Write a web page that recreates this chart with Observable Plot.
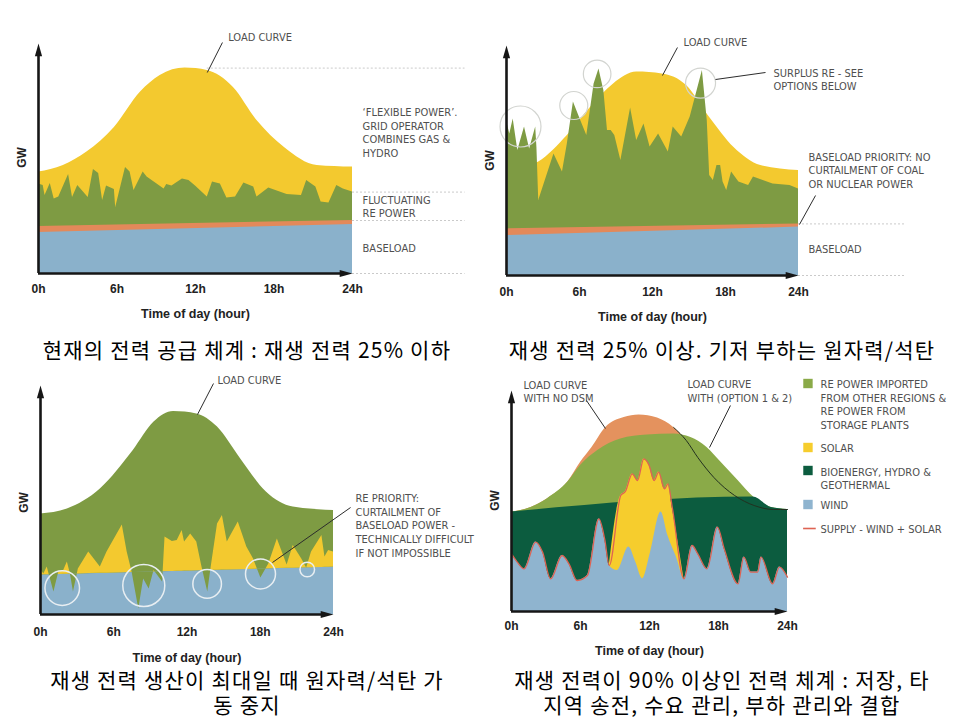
<!DOCTYPE html>
<html>
<head>
<meta charset="utf-8">
<script src="https://cdn.jsdelivr.net/npm/d3@7"></script>
<script src="https://cdn.jsdelivr.net/npm/@observablehq/plot@0.6"></script>
<style>
  html, body { margin: 0; padding: 0; background: #fff; }
  #page { position: relative; width: 960px; height: 720px; overflow: hidden; background: #fff; }
  #page svg { position: absolute; }
  .cap { position: absolute; text-align: center; font-family: "Noto Sans CJK KR", sans-serif;
         font-size: 21px; letter-spacing: 1.2px; line-height: 25px; height: 25px; color: #000; white-space: nowrap; }
</style>
</head>
<body>
<div id="page"></div>
<script>
// ---------- data: [hour, GW] pairs ----------
const hourTicks = [0, 6, 12, 18, 24];

// Panel 1: today's supply, renewables below 25%
const p1Load = [[0,50.7],[1.9,54],[3.7,60.7],[5.8,73],[7.8,90.7],[9.3,99],[11.2,102.7],[12.9,101.5],
  [14.9,93],[16.7,76.5],[18.8,63],[21.3,54],[24,53.2]];
const p1Renewable = [[0,44.8],[0.36,44],[0.5,39],[0.9,45],[1.2,37.3],[1.55,38.2],[2.3,49.5],[2.6,38],
  [3.0,44],[3.8,38],[4.2,52],[4.6,50],[4.9,36.5],[5.2,43.7],[5.8,42],[5.9,33],[6.65,53],[7.0,50.7],
  [7.3,41.5],[8.0,50.7],[8.3,48.2],[9.6,42.3],[9.8,44.5],[10.2,43.7],[11.0,47.3],[11.5,46.5],[12.0,43.7],
  [12.9,38.2],[13.3,45.7],[13.9,44.8],[14.4,37.8],[15.06,38.2],[15.7,45.2],[16.45,43.2],[16.7,38.2],
  [17.6,42.8],[19.0,39.5],[20.1,39],[20.5,46.5],[21.2,43.2],[21.6,35.7],[22.2,35.2],[22.8,44],[23.3,42.3],[24,40.7]];
const p1Baseload = [[0,20.5],[24,24.5]];
const p1BaseBand = [[0,23.5],[24,26.5]];

// Panel 2: renewables above 25%, baseload keeps priority
const p2Load = [[0,51],[1.5,53.5],[2.65,56.7],[5.0,70],[6.9,84],[8.8,95.8],[10.7,101.7],[12.8,100.8],
  [14.8,95],[16.7,79],[18.7,64],[20.9,55],[24,52.5]];
const p2Renewable = [[0,77.5],[0.27,70.8],[0.55,78.3],[0.93,62.5],[1.48,74.2],[1.9,63.3],[2.4,74.2],[2.5,64],
  [2.65,37.5],[3.9,60.8],[4.6,51.7],[5.0,65.8],[5.5,86.7],[6.1,77.5],[6.6,70],[7.2,95.8],[7.6,103.3],
  [8.0,92.5],[8.3,72.5],[8.6,72.5],[8.9,70],[9.4,57.5],[10.2,83.8],[10.7,67.5],[11.3,75.8],[11.8,64.2],
  [12.5,70.8],[13.3,61.7],[13.7,74.2],[14.4,69.2],[15.1,79.2],[16.1,102.5],[16.5,77.5],[16.7,50],[17.0,47.5],
  [17.3,55],[17.6,55],[17.8,46.7],[18.1,42.5],[18.5,51.7],[19.1,46.7],[19.9,45],[20.3,49.2],[21.1,47.5],
  [21.9,45.8],[23.3,45],[24,43.3]];
const p2Baseload = [[0,20],[24,24.2]];
const p2BaseBand = [[0,23.3],[24,25.8]];

// Panel 3: renewables at peak, baseload curtailed
const p3Load = [[0,50.3],[2.2,52.8],[4.9,62.8],[7.6,82],[9.3,96.2],[10.9,101.5],[12.8,100.3],[14.5,93.7],
  [16.4,77.8],[18.5,61.2],[20.7,53.7],[24,52]];
const p3Renewable = [[0,22.8],[0.27,20.3],[0.55,23.7],[1.1,11.2],[1.5,21.2],[1.9,22],[2.2,26.2],[2.45,20.3],
  [2.7,11.2],[3.1,22.8],[3.95,31.2],[4.9,23.7],[5.45,31.2],[6.7,44.8],[7.1,31.2],[7.5,21.2],[8.05,2.8],
  [8.45,17.8],[8.9,12.8],[9.3,22],[10.0,16.2],[10.2,38.7],[10.8,36.5],[11.2,37],[11.6,42],[11.8,36.2],
  [12.3,40.3],[12.8,36.2],[13.2,24.5],[13.7,11.2],[14.0,24.5],[14.5,45.3],[14.9,49.5],[15.3,36.2],[16.2,46.2],
  [16.9,33.7],[17.45,27.8],[18.05,18.2],[18.7,25.3],[19.4,37.8],[20.2,24.8],[20.7,34.5],[21.4,27.8],
  [21.8,23.2],[22.2,31.2],[23.05,39.5],[23.3,28.7],[23.6,32],[24,31.2]];
const p3Baseload = [[0,19.8],[24,23.7]];

// Panel 4: more than 90% renewables with storage, transmission and demand-side management
const p4LoadNoDSM = [[0,49.7],[1.7,52],[3.1,56.3],[4.9,64.7],[6.0,74.5],[7.0,82],[8.2,92],[9.8,97],[11.1,98.3],
  [12.7,96.7],[14.1,92],[15.2,85.5],[16.2,77],[17.6,67],[19.4,58],[21.1,53],[22.8,51],[24,51]];
const p4LoadDSM = [[0,49.7],[1.7,52],[3.1,56.3],[4.9,64.7],[6.0,73],[7.5,80.5],[9.5,86.3],[11.8,88.3],
  [14.1,88.8],[15.6,87],[17.0,82],[18.2,74.7],[19.7,65.5],[21.1,57],[22.6,52],[24,51]];
const p4Bio = [[0,49.7],[21.0,57.2],[22.6,52],[24,51]];
const p4Wind = [[0,28.8],[0.5,24.7],[1.1,21.3],[2.1,34.7],[2.7,29.7],[3.4,16.3],[4.4,28],[5.0,23.8],[5.7,15.5],
  [6.6,18],[7.6,46.3],[8.1,36.3],[8.5,23],[9.2,20.5],[10.2,32.2],[10.8,24.7],[11.4,16.3],[12.1,29.7],[13.0,49.7],
  [13.6,38],[14.4,26.3],[15.0,16.3],[15.7,33],[16.2,28.8],[17.0,21.3],[17.9,42.2],[18.5,31.3],[19.7,13.8],
  [20.2,27.2],[20.8,19.7],[21.4,19.7],[21.7,27.2],[22.7,13.8],[23.3,22.2],[24,17.2]];
const p4WindPlusSolar = [[8.5,23],[9.5,58],[9.9,60],[10.5,68.8],[10.96,65.5],[11.5,76.3],[11.97,73],[12.4,65.5],
  [12.8,69.7],[13.3,61.3],[13.6,63.8],[14.0,51.3],[15.0,16.3]];

const p4Legend = ["RE POWER IMPORTED\nFROM OTHER REGIONS &\nRE POWER FROM\nSTORAGE PLANTS", "SOLAR",
  "BIOENERGY, HYDRO &\nGEOTHERMAL", "WIND", "SUPPLY - WIND + SOLAR"];

const captions = [
  ["현재의 전력 공급 체계 : 재생 전력 25% 이하"],
  ["재생 전력 25% 이상. 기저 부하는 원자력/석탄"],
  ["재생 전력 생산이 최대일 때 원자력/석탄 가", "동 중지"],
  ["재생 전력이 90% 이상인 전력 체계 : 저장, 타", "지역 송전, 수요 관리, 부하 관리와 결합"]
];

// ---------- styles ----------
const INK = "#161616";
const C = {
  yellow: "#f3c92f", green: "#7e9b43", blue: "#8ab1cb", orange: "#e3895a",
  p4orange: "#e4925e", p4green: "#8aaa48", p4dark: "#0c5c3f", p4yellow: "#f6cd2d", p4blue: "#8fb4cf",
  supply: "#de6353", note: "#4f4f4f", leader: "#2c2c2c", guide: "#c4c4c4", ring: "#d2d4d0", ringLight: "#e8eef2"
};
const NARROW = '"Liberation Sans Narrow","Arial Narrow","DejaVu Sans Condensed",sans-serif';
const BOLD = '"Liberation Sans",Arial,sans-serif';

const rows = pairs => pairs.map(([h, v]) => ({h, v}));

// narrow filled arrowhead, tip at the anchor point
const arrowHead = {
  draw(ctx, size) {
    const r = Math.sqrt(size / Math.PI);
    ctx.moveTo(0, 0);
    ctx.lineTo(0.45 * r, 1.6 * r);
    ctx.lineTo(-0.45 * r, 1.6 * r);
    ctx.closePath();
  }
};

function note(text, h, u, opts = {}) {
  return Plot.text([text], {x: h, y: u, text: d => d, textAnchor: "start", fill: C.note,
    fontFamily: NARROW, fontSize: 11, lineHeight: 1.27, ...opts});
}
function leader(h1, u1, h2, u2) {
  return Plot.link([0], {x1: h1, y1: u1, x2: h2, y2: u2, stroke: C.leader, strokeWidth: 1});
}
function guide(u, h1, h2) {
  return Plot.ruleY([u], {x1: h1, x2: h2, stroke: C.guide, strokeWidth: 0.9, strokeDasharray: "2,2"});
}
function rings(list, stroke, width) {
  return list.map(c => Plot.dot([c], {x: "h", y: "u", r: c.r, stroke, strokeWidth: width, fill: "none"}));
}

function axisMarks(ymax, {gwY, tickDy, titleDy}) {
  return [
    Plot.ruleX([0], {y1: 0, y2: ymax - 4, stroke: INK, strokeWidth: 2.6}),
    Plot.ruleY([0], {x1: 0, x2: 23.4, stroke: INK, strokeWidth: 2.6}),
    Plot.dot([0], {x: 0, y: ymax, symbol: arrowHead, r: 8, fill: INK, stroke: "none"}),
    Plot.dot([0], {x: 24, y: 0, symbol: arrowHead, r: 8, rotate: 90, fill: INK, stroke: "none"}),
    Plot.text(hourTicks, {x: d => d, y: 0, dy: tickDy, text: d => `${d}h`, fontFamily: BOLD,
      fontWeight: "bold", fontSize: 12, fill: "#222"}),
    Plot.text(["Time of day (hour)"], {x: 12, y: 0, dy: titleDy, text: d => d, fontFamily: BOLD,
      fontWeight: "bold", fontSize: 12.5, fill: "#222"}),
    Plot.text(["GW"], {x: 0, y: gwY, dx: -16, rotate: -90, text: d => d, fontFamily: BOLD,
      fontWeight: "bold", fontSize: 12, fill: "#222"})
  ];
}

const page = document.getElementById("page");
function panel({left, top, width, height, margin, ymax, marks}) {
  const svg = Plot.plot({
    width, height,
    marginTop: margin[0], marginRight: margin[1], marginBottom: margin[2], marginLeft: margin[3],
    x: {domain: [0, 24], axis: null},
    y: {domain: [0, ymax], axis: null},
    style: {background: "transparent", overflow: "visible"},
    marks
  });
  svg.style.left = left + "px";
  svg.style.top = top + "px";
  page.append(svg);
}

// ---------- panel 1 ----------
{
  const ymax = 115;
  panel({left: 0, top: 0, width: 480, height: 330, margin: [43, 128, 57, 38], ymax, marks: [
    Plot.areaY(rows(p1Load), {x: "h", y: "v", fill: C.yellow, curve: "monotone-x"}),
    Plot.areaY(rows(p1Renewable), {x: "h", y: "v", fill: C.green}),
    Plot.areaY(rows(p1BaseBand), {x: "h", y: "v", fill: C.orange}),
    Plot.areaY(rows(p1Baseload), {x: "h", y: "v", fill: C.blue}),
    guide(d3.max(p1Load, d => d[1]), 12.9, 32.6),
    guide(p1Renewable.at(-1)[1], 24, 32.6),
    guide(p1BaseBand.at(-1)[1], 24, 32.6),
    guide(0, 24, 32.6),
    note("LOAD CURVE", 14.5, 118.5),
    leader(14.06, 115.5, 12.9, 100.5),
    note("‘FLEXIBLE POWER’.\nGRID OPERATOR\nCOMBINES GAS &\nHYDRO", 24.77, 70.75),
    note("FLUCTUATING\nRE POWER", 24.77, 33.75),
    note("BASELOAD", 24.77, 13),
    ...axisMarks(ymax, {gwY: 58, tickDy: 16, titleDy: 40})
  ]});
}

// ---------- panel 2 ----------
{
  const ymax = 115;
  panel({left: 480, top: 0, width: 480, height: 330, margin: [45, 162, 55, 26], ymax, marks: [
    Plot.areaY(rows(p2Load), {x: "h", y: "v", fill: C.yellow, curve: "monotone-x"}),
    Plot.areaY(rows(p2Renewable), {x: "h", y: "v", fill: C.green}),
    Plot.areaY(rows(p2BaseBand), {x: "h", y: "v", fill: C.orange}),
    Plot.areaY(rows(p2Baseload), {x: "h", y: "v", fill: C.blue}),
    guide(p2BaseBand.at(-1)[1], 24, 32.8),
    guide(0, 24, 32.8),
    ...rings([{h: 1.15, u: 74.5, r: 20.5}, {h: 5.53, u: 85, r: 14}, {h: 7.45, u: 100.8, r: 13.8},
      {h: 15.95, u: 96.2, r: 15}], C.ring, 1.2),
    note("LOAD CURVE", 14.55, 117),
    leader(14.05, 114, 12.82, 100),
    note("SURPLUS RE - SEE\nOPTIONS BELOW", 21.95, 98.25),
    leader(21.29, 101.5, 17.18, 98),
    note("BASELOAD PRIORITY: NO\nCURTAILMENT OF COAL\nOR NUCLEAR POWER", 24.82, 52.75),
    leader(25.4, 40, 24.08, 25.5),
    note("BASELOAD", 24.82, 13.5),
    ...axisMarks(ymax, {gwY: 57.5, tickDy: 17, titleDy: 41})
  ]});
}

// ---------- panel 3 ----------
{
  const ymax = 114.5;
  // the baseload top is a straight line; evaluate it at each renewable reading
  const baseAt = d3.scaleLinear(p3Baseload.map(d => d[0]), p3Baseload.map(d => d[1]));
  const re = p3Renewable.map(([h, v]) => ({h, re: v, base: baseAt(h)}));
  const split = Plot.differenceY
    ? [Plot.differenceY(re, {x: "h", y1: "base", y2: "re", positiveFill: C.yellow, negativeFill: C.green,
        positiveFillOpacity: 1, negativeFillOpacity: 1, stroke: "none"})]
    : [Plot.areaY(re, {x: "h", y1: "base", y2: d => Math.max(d.re, d.base), fill: C.yellow}),
       Plot.areaY(re, {x: "h", y1: d => Math.min(d.re, d.base), y2: "base", fill: C.green})];
  panel({left: 0, top: 345, width: 480, height: 320, margin: [40, 147, 51, 40], ymax, marks: [
    Plot.areaY(rows(p3Load), {x: "h", y: "v", fill: C.green, curve: "monotone-x"}),
    Plot.areaY(rows(p3Baseload), {x: "h", y: "v", fill: C.blue}),
    ...split,
    ...rings([{h: 1.78, u: 13.2, r: 17.3}, {h: 8.46, u: 14.5, r: 21}, {h: 13.65, u: 15.3, r: 14.3},
      {h: 18.02, u: 20.3, r: 15}, {h: 21.85, u: 22.5, r: 7.3}], C.ringLight, 1.5),
    note("LOAD CURVE", 14.5, 117.5),
    leader(14.17, 115.5, 12.86, 100),
    note("RE PRIORITY:\nCURTAILMENT OF\nBASELOAD POWER -\nTECHNICALLY DIFFICULT\nIF NOT IMPOSSIBLE", 25.8, 44.75),
    leader(25.4, 53.5, 19.0, 26),
    ...axisMarks(ymax, {gwY: 56, tickDy: 17.7, titleDy: 43.7})
  ]});
}

// ---------- panel 4 ----------
{
  const ymax = 110.5;
  const solarStart = p4WindPlusSolar[0][0], solarEnd = p4WindPlusSolar.at(-1)[0];
  const supply = [...p4Wind.filter(([h]) => h < solarStart), ...p4WindPlusSolar,
    ...p4Wind.filter(([h]) => h > solarEnd)];
  const legendColors = [C.p4green, C.p4yellow, C.p4dark, C.p4blue];
  const legendSwatchU = [114, 82, 70.5, 53.5];
  const legendTextU = [103.75, 82, 66.75, 53.5, 41.5];
  panel({left: 480, top: 345, width: 480, height: 320, margin: [45, 173, 54, 31], ymax, marks: [
    Plot.areaY(rows(p4LoadNoDSM), {x: "h", y: "v", fill: C.p4orange, curve: "monotone-x"}),
    Plot.areaY(rows(p4LoadDSM), {x: "h", y: "v", fill: C.p4green, curve: "monotone-x"}),
    Plot.areaY(rows(p4Bio), {x: "h", y: "v", fill: C.p4dark, curve: "monotone-x"}),
    Plot.areaY(rows(p4WindPlusSolar), {x: "h", y: "v", fill: C.p4yellow, curve: "monotone-x"}),
    Plot.areaY(rows(p4Wind), {x: "h", y: "v", fill: C.p4blue, curve: "monotone-x"}),
    Plot.line(rows(supply), {x: "h", y: "v", stroke: C.supply, strokeWidth: 1.3, curve: "monotone-x"}),
    Plot.line(rows(p4LoadNoDSM.filter(([h]) => h >= 14.1)), {x: "h", y: "v", stroke: "#22301f",
      strokeWidth: 1, curve: "monotone-x"}),
    note("LOAD CURVE\nWITH NO DSM", 1.04, 110.25),
    leader(6.52, 105.5, 8.17, 91.5),
    note("LOAD CURVE\nWITH (OPTION 1 & 2)", 15.3, 110.5),
    leader(19.04, 103, 17.22, 82),
    ...legendColors.map((fill, i) => Plot.dot([0], {x: 25.78, y: legendSwatchU[i], symbol: "square",
      r: 5.3, fill, stroke: "none"})),
    Plot.ruleY([41.5], {x1: 25.4, x2: 26.5, stroke: C.supply, strokeWidth: 1.6}),
    ...p4Legend.map((label, i) => note(label, 26.87, legendTextU[i], {lineHeight: 1.245}))
  ].concat(axisMarks(ymax, {gwY: 55.5, tickDy: 15, titleDy: 39}))});
}

// ---------- captions: one box per line ----------
const capColumns = [{left: 0, width: 494}, {left: 484, width: 476}, {left: 0, width: 494}, {left: 484, width: 476}];
const capLineTops = [[337], [337], [667, 692], [667, 692]];
captions.forEach((lines, i) => {
  lines.forEach((line, j) => {
    const div = document.createElement("div");
    div.className = "cap";
    Object.assign(div.style, {left: capColumns[i].left + "px", width: capColumns[i].width + "px",
      top: capLineTops[i][j] + "px"});
    div.textContent = line;
    page.append(div);
  });
});
</script>
</body>
</html>
